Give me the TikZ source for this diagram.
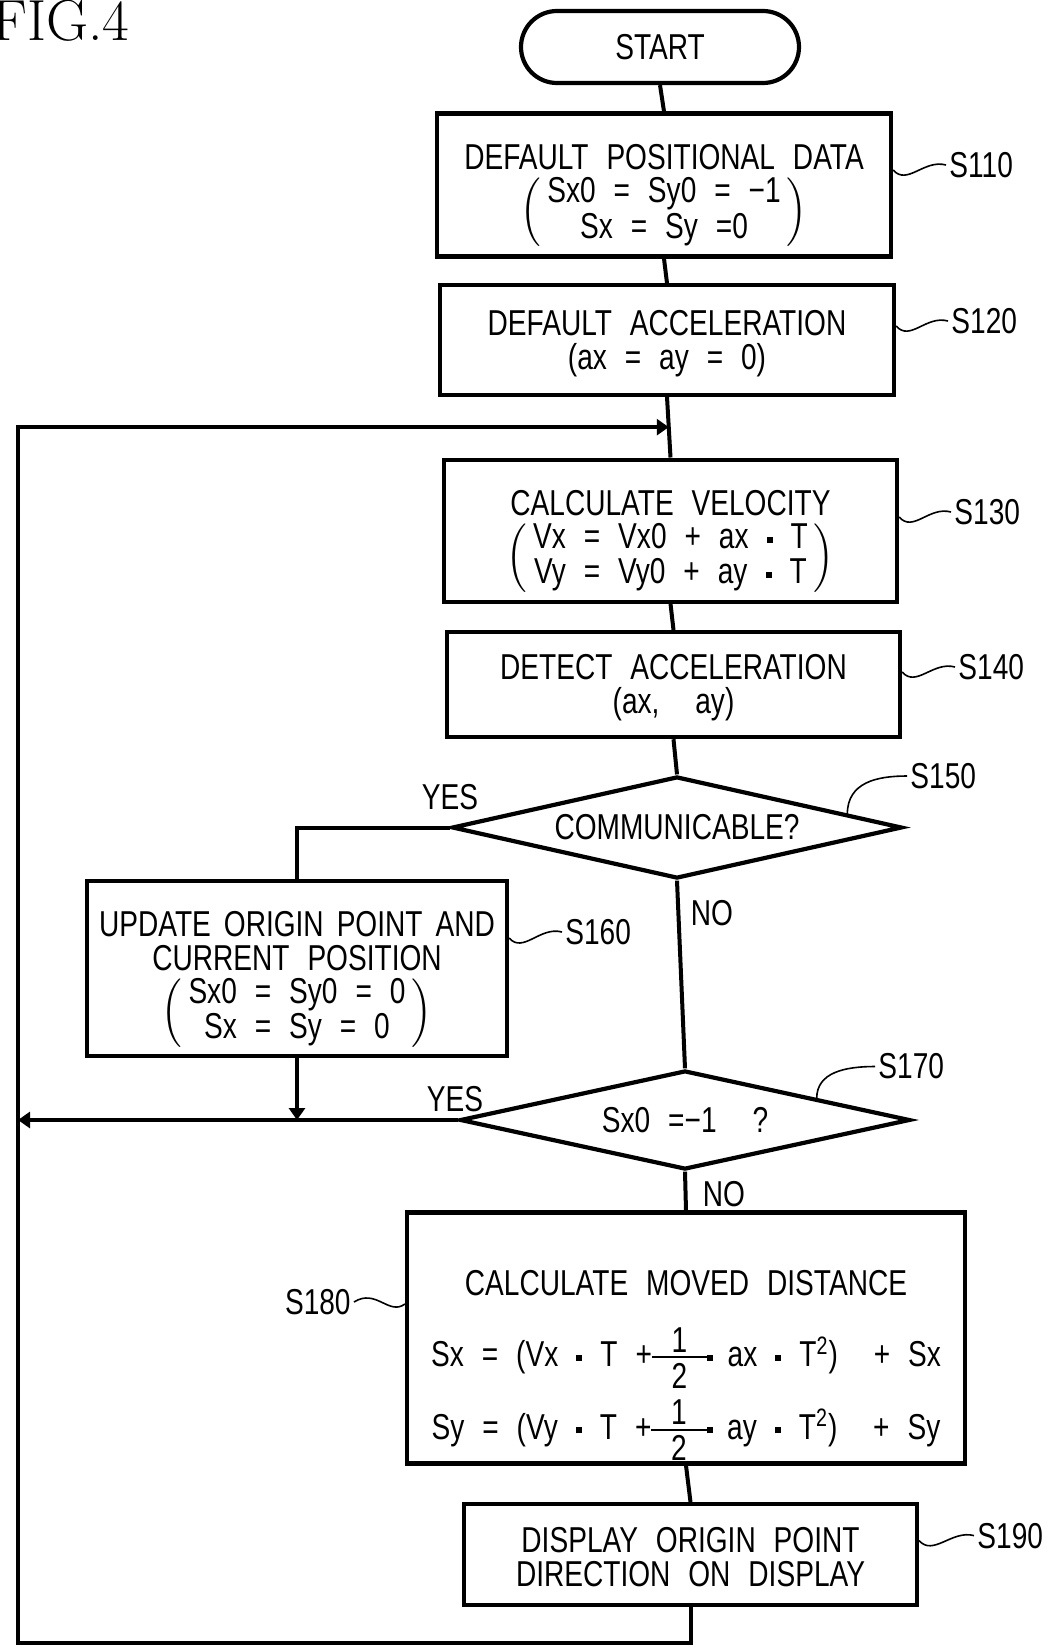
\documentclass[tikz,border=0pt]{standalone}
\usepackage{amsmath}
\usepackage{graphicx}
\usepackage{fontspec}
\newfontfamily\boxfont[FakeStretch=0.78,WordSpace=2.3]{Liberation Sans}
\usetikzlibrary{positioning,arrows.meta,calc,shapes.geometric}
\newcommand{\dotbox}{\rule[0.3ex]{0.17em}{0.17em}}
\newcommand{\sqdot}{\hspace{0.5em}\dotbox\hspace{0.5em}}
\newcommand{\half}{$\vcenter{\offinterlineskip\halign{\hfil\hspace{0.55em}##\hspace{0.55em}\hfil\cr
   1\cr\noalign{\kern2pt\hrule height0.8pt\kern2.5pt}2\cr}}$}
\newcommand{\lpar}{\scalebox{1}[1.1]{$\Big($}}
\newcommand{\rpar}{\scalebox{1}[1.1]{$\Big)$}}
\newcommand{\pair}[2]{\lpar\hspace{3pt}\begin{tabular}{@{}c@{}}#1\\#2\end{tabular}\hspace{3pt}\rpar}
\tikzset{
  proc/.style  ={draw, line width=2.1pt, inner sep=0pt, align=center,
                 font=\boxfont\fontsize{18}{17}\selectfont},
  term/.style  ={proc, rounded corners=18pt},
  dec/.style   ={proc, diamond, aspect=4.4},
  lbl/.style   ={inner sep=1.5pt, font=\boxfont\fontsize{18}{17}\selectfont},
  ln/.style    ={line width=2pt},
  ar/.style    ={line width=2pt, -{Triangle[length=6pt,width=8pt]}},
  squig/.style ={line width=0.8pt},
}

\begin{document}
\begin{tikzpicture}[x=0.5pt,y=-0.5pt]
\def\xL{18} \def\yB{1643}
\useasboundingbox (0,0) rectangle (1055,1649);
\node[font=\fontsize{29}{32}\selectfont,anchor=base east,inner sep=0pt] (fig) at (130,40) {FIG.4};

% steps
\node[term,minimum width=139pt,minimum height=36pt] (start) at (660,47) {START};
\node[proc,minimum width=227pt,minimum height=71.5pt] (s110) at (664,185)
   {\rule{0pt}{24pt}DEFAULT POSITIONAL DATA\\[3pt]
    \pair{Sx0 = Sy0 = −1}{Sx = Sy =0}};
\node[proc,minimum width=227pt,minimum height=54.7pt] (s120) at (667,340)
   {\rule{0pt}{16pt}DEFAULT ACCELERATION\\(ax = ay = 0)};
\node[proc,minimum width=226.5pt,minimum height=71pt] (s130) at (670.5,530.6)
   {\rule{0pt}{24pt}CALCULATE VELOCITY\\[3pt]
    \pair{Vx = Vx0 + ax\sqdot T}{Vy = Vy0 + ay\sqdot T}};
\node[proc,minimum width=226.5pt,minimum height=52.5pt] (s140) at (673.5,684.6)
   {\rule{0pt}{16pt}DETECT ACCELERATION\\(ax,\ \ ay)};
\node[dec,minimum width=225pt,minimum height=51pt] (s150) at (677,827.5) {COMMUNICABLE?};
\node[proc,minimum width=210pt,minimum height=87.5pt] (s160) at (297,968.6)
   {\rule{0pt}{24pt}{\spaceskip=6.5pt UPDATE ORIGIN POINT AND}\\CURRENT POSITION\\[3pt]
    \pair{Sx0 = Sy0 = 0}{Sx = Sy = 0}};
\node[dec,minimum width=225pt,minimum height=49.5pt] (s170) at (685,1120) {Sx0 =−1 \ ?};
\node[proc,minimum width=279pt,minimum height=125.5pt] (s180) at (686,1338)
   {\rule{0pt}{40pt}CALCULATE MOVED DISTANCE\\[15pt]
    Sx = (Vx\sqdot T +\half\dotbox\hspace{0.4em}ax\sqdot T\textsuperscript{2})\ \ + Sx\\[5pt]
    Sy = (Vy\sqdot T +\half\dotbox\hspace{0.4em}ay\sqdot T\textsuperscript{2})\ \ + Sy};
\node[proc,minimum width=226.5pt,minimum height=50.5pt] (s190) at (690.5,1554.6)
   {\rule{0pt}{15pt}DISPLAY ORIGIN POINT\\DIRECTION ON DISPLAY};

% branch labels
\node[lbl] (yes1) at (450,797) {YES};
\node[lbl] (no1) at (712,913) {NO};
\node[lbl] (yes2) at (455,1099) {YES};
\node[lbl] (no2) at (724,1194) {NO};

% step numbers
\node[lbl,anchor=west] (l110) at (946,165) {S110};
\node[lbl,anchor=west] (l120) at (948,321) {S120};
\node[lbl,anchor=west] (l130) at (951,512) {S130};
\node[lbl,anchor=west] (l140) at (955,667) {S140};
\node[lbl,anchor=west] (l150) at (907,776) {S150};
\node[lbl,anchor=west] (l160) at (562,932) {S160};
\node[lbl,anchor=west] (l170) at (875,1066.5) {S170};
\node[lbl,anchor=east] (l180) at (354,1302) {S180};
\node[lbl,anchor=west] (l190) at (974,1535.6) {S190};

\draw[squig] ($(s110.east |- l110.west)+(0,5)$) .. controls +(14,16) and +(-22,-6) .. (l110.west);
\draw[squig] ($(s120.east |- l120.west)+(0,5)$) .. controls +(14,16) and +(-22,-6) .. (l120.west);
\draw[squig] ($(s130.east |- l130.west)+(0,5)$) .. controls +(14,16) and +(-22,-6) .. (l130.west);
\draw[squig] ($(s140.east |- l140.west)+(0,5)$) .. controls +(14,16) and +(-22,-6) .. (l140.west);
\draw[squig] ($(s160.east |- l160.west)+(0,6)$) .. controls +(14,16) and +(-22,-6) .. (l160.west);
\draw[squig] ($(s190.east |- l190.west)+(0,5)$) .. controls +(14,16) and +(-22,-6) .. (l190.west);
\draw[squig] (l180.east) .. controls +(22,-14) and +(-16,12) .. ($(s180.west |- l180.east)+(0,2)$);
\draw[squig] ($(s150.north)!0.75!(s150.east)$) .. controls +(0,-32) and +(-30,0) .. (l150.west);
\draw[squig] ($(s170.north)!0.58!(s170.east)$) .. controls +(0,-26) and +(-30,0) .. (l170.west);

% flow
\coordinate (rail) at (\xL,0);
\coordinate (bot) at (0,\yB);
\coordinate (join) at ($(s120.south)!0.5!(s130.north)$);
\draw[ln] (start.south) -- (s110.north);
\draw[ln] (s110.south) -- (s120.north);
\draw[ln] (s120.south) -- (s130.north);
\draw[ln] (s130.south) -- (s140.north);
\draw[ln] (s140.south) -- (s150.north);
\draw[ln] (s150.west) -| (s160.north);
\draw[ln] (s150.south) -- (s170.north);
\coordinate (m160) at (s160.south |- s170.west);
\draw[ar] (s160.south) -- (m160);
\draw[ar] (s170.west) -- (s170.west -| rail);
\draw[ln] (s170.south) -- (s180.north);
\draw[ln] (s180.south) -- (s190.north);
\draw[ar] (s190.south) -- (s190.south |- bot) -- (bot -| rail) -- (join -| rail) -- (join);
\end{tikzpicture}
\end{document}
